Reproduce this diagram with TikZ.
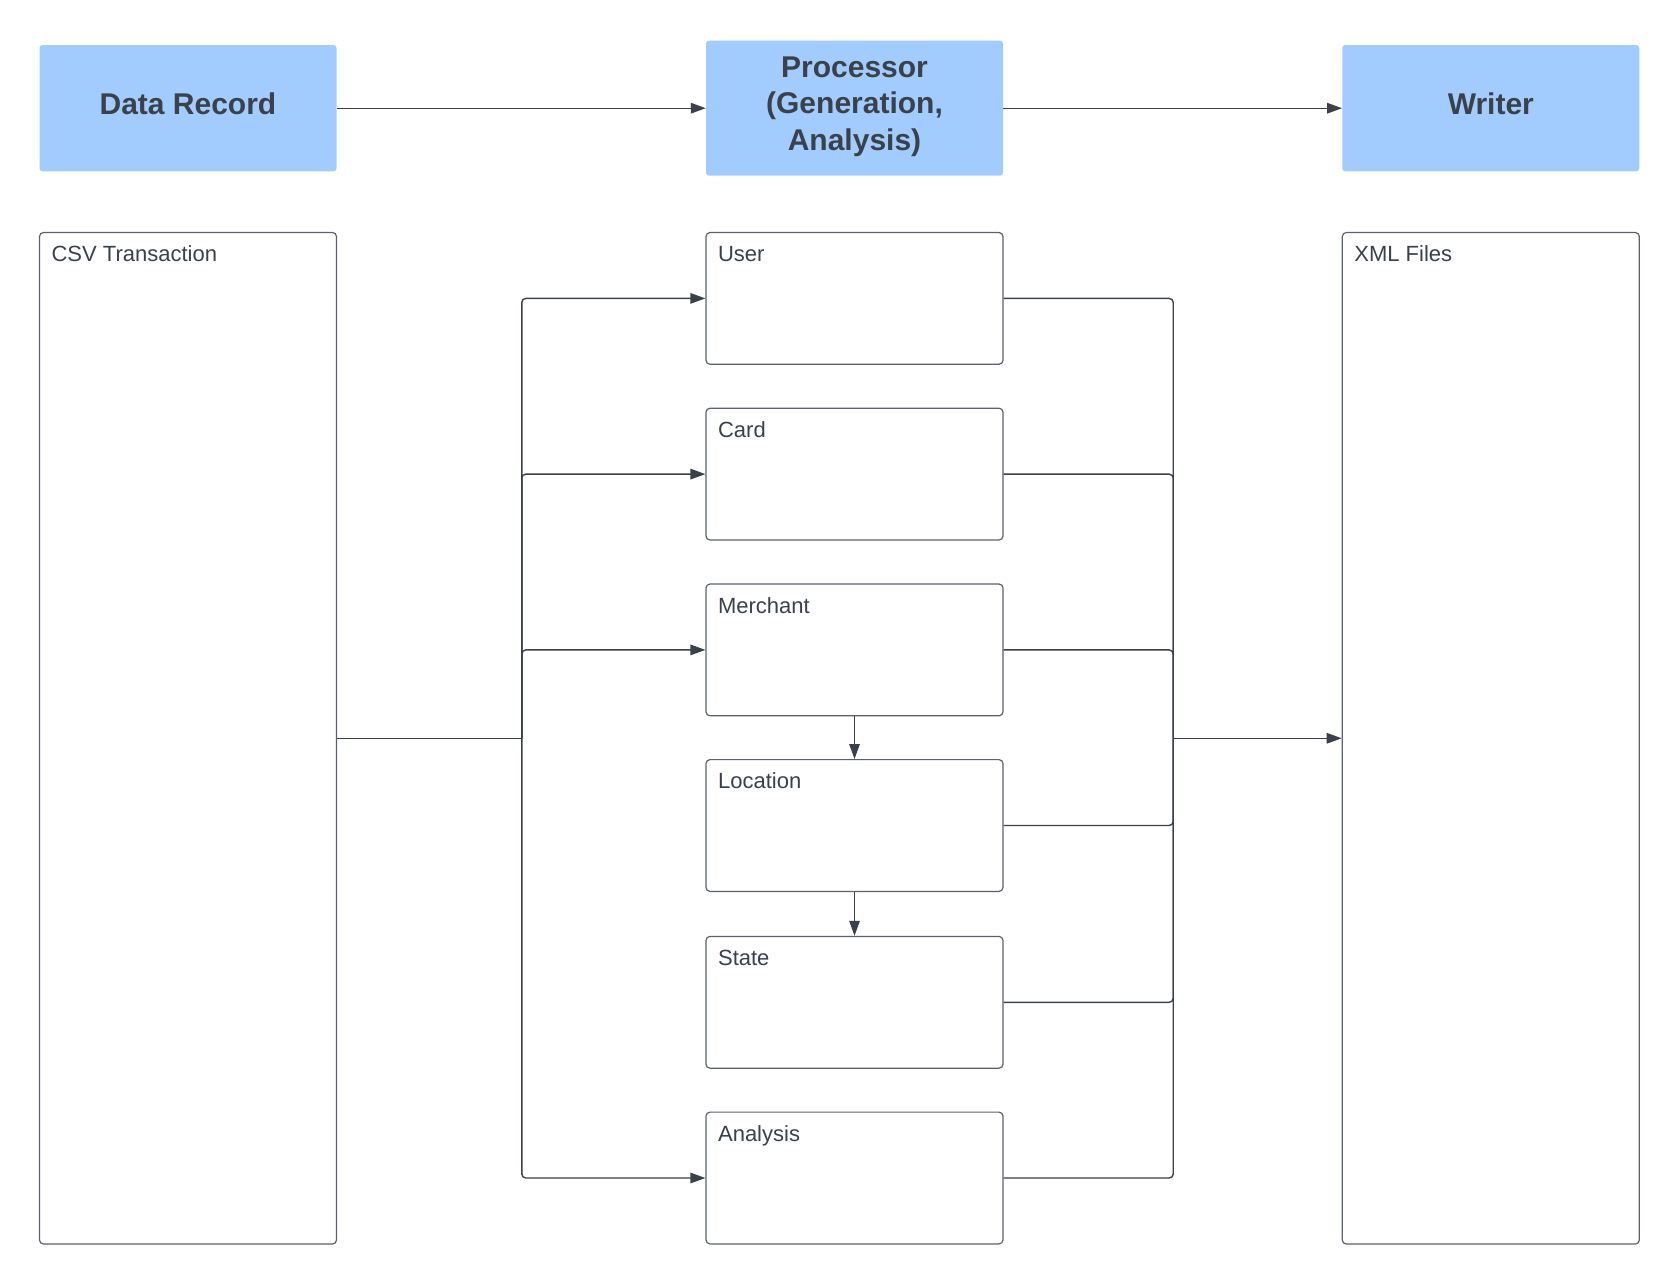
\documentclass[tikz,border=0pt]{standalone}
\usepackage{fontspec}
\setmainfont{Liberation Sans}
\usetikzlibrary{arrows.meta}
\definecolor{txt}{HTML}{3A414A}
\definecolor{ln}{HTML}{3A414A}
\definecolor{bd}{HTML}{5C626D}
\definecolor{hd}{HTML}{A3CCFE}
\begin{document}
\begin{tikzpicture}[x=1pt,y=-1pt,
  head/.style={rectangle, fill=hd, rounded corners=3pt, minimum width=297pt, text=txt,
    font=\fontsize{30}{36.5}\selectfont\bfseries, align=center, inner sep=0pt},
  panel/.style={rectangle, draw=bd, line width=1.2pt, fill=white, rounded corners=4pt,
    minimum width=297pt, inner sep=0pt},
  tag/.style={label={[anchor=north west, inner sep=0pt, xshift=12.5pt, yshift=-13.5pt,
    text=txt, font=\fontsize{22}{26}\selectfont, text height=16pt]north west:#1}},
  conn/.style={draw=ln, line width=1.4pt, rounded corners=4pt},
  arr/.style={conn, -{Triangle[length=15pt, width=10.5pt]}}]
\useasboundingbox (0,0) rectangle (1680,1285);
% header boxes
\node[head, minimum height=126.4pt, text height=22pt, text depth=9pt] (rec) at (188,108.2) {Data Record};
\node[head, minimum height=135pt, text depth=10pt] (proc) at (854.5,108.2) {Processor\\(Generation,\\Analysis)};
\node[head, minimum height=126.4pt, text height=22pt, text depth=9pt] (wri) at (1490.8,108.2) {Writer};
% panels
\node[panel, minimum height=1011.5pt, tag={CSV Transaction}] (csv) at (188,738.25) {};
\node[panel, minimum height=1011.5pt, tag={XML Files}] (xml) at (1490.8,738.25) {};
\node[panel, minimum height=131.8pt, tag={User}] (user) at (854.5,298.4) {};
\node[panel, minimum height=131.8pt, tag={Card}] (card) at (854.5,474.1) {};
\node[panel, minimum height=131.8pt, tag={Merchant}] (merch) at (854.5,649.9) {};
\node[panel, minimum height=131.8pt, tag={Location}] (loc) at (854.5,825.5) {};
\node[panel, minimum height=131.8pt, tag={State}] (state) at (854.5,1002.3) {};
\node[panel, minimum height=131.8pt, tag={Analysis}] (ana) at (854.5,1178) {};
\coordinate (jl) at (521.8,738.25);
\coordinate (jr) at (1173.2,738.25);
% top flow
\draw[arr] (rec) -- (proc);
\draw[arr] (proc) -- (wri);
% left fan-out
\draw[conn] (csv.east) -- (jl);
\draw[arr] (jl) |- (user.west);
\draw[arr] (jl) |- (card.west);
\draw[arr] (jl) |- (merch.west);
\draw[arr] (jl) |- (ana.west);
% chain
\draw[arr] (merch) -- (loc);
\draw[arr] (loc) -- (state);
% right fan-in
\draw[conn] (user.east) -| (jr);
\draw[conn] (card.east) -| (jr);
\draw[conn] (merch.east) -| (jr);
\draw[conn] (loc.east) -| (jr);
\draw[conn] (state.east) -| (jr);
\draw[conn] (ana.east) -| (jr);
\draw[arr] (jr) -- (xml.west);
\end{tikzpicture}
\end{document}
